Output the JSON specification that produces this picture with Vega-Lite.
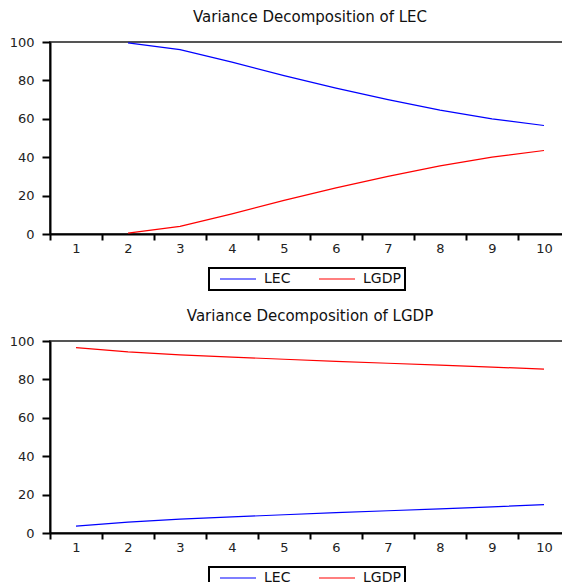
{
  "$schema": "https://vega.github.io/schema/vega-lite/v6.json",
  "padding": {"left": 8, "top": 9, "right": 0, "bottom": 0},
  "spacing": 16,
  "config": {
    "font": "DejaVu Sans",
    "background": "white",
    "view": {"stroke": "#555", "strokeWidth": 2},
    "axis": {"grid": false, "domainColor": "#000", "domainWidth": 2, "tickColor": "#000", "tickWidth": 2, "labelFontSize": 13, "labelColor": "#222"},
    "axisX": {"tickSize": 6, "labelPadding": 2},
    "axisY": {"tickSize": 8, "labelPadding": 8},
    "title": {"fontSize": 15, "fontWeight": "normal", "font": "DejaVu Sans", "offset": 11, "color": "#111"},
    "legend": {"orient": "none", "direction": "horizontal", "symbolType": "M-1,0H5", "symbolSize": 144, "symbolStrokeWidth": 1.2, "symbolOffset": 6, "strokeColor": "#000", "strokeWidth": 2, "padding": 4, "labelFontSize": 14, "labelColor": "#111", "columnPadding": 21, "labelOffset": 31, "legendX": 159, "legendY": 226}
  },
  "resolve": {"legend": {"color": "independent"}},
  "vconcat": [
    {
      "title": "Variance Decomposition of LEC",
      "width": 520,
      "height": 192,
      "data": {"values": [
        {"period": 2, "series": "LEC", "value": 99.5},
        {"period": 3, "series": "LEC", "value": 96.0},
        {"period": 4, "series": "LEC", "value": 89.5},
        {"period": 5, "series": "LEC", "value": 82.5},
        {"period": 6, "series": "LEC", "value": 76.0},
        {"period": 7, "series": "LEC", "value": 70.0},
        {"period": 8, "series": "LEC", "value": 64.5},
        {"period": 9, "series": "LEC", "value": 60.0},
        {"period": 10, "series": "LEC", "value": 56.5},
        {"period": 2, "series": "LGDP", "value": 0.5},
        {"period": 3, "series": "LGDP", "value": 4.0},
        {"period": 4, "series": "LGDP", "value": 10.5},
        {"period": 5, "series": "LGDP", "value": 17.5},
        {"period": 6, "series": "LGDP", "value": 24.0},
        {"period": 7, "series": "LGDP", "value": 30.0},
        {"period": 8, "series": "LGDP", "value": 35.5},
        {"period": 9, "series": "LGDP", "value": 40.0},
        {"period": 10, "series": "LGDP", "value": 43.5}
      ]},
      "mark": {"type": "line", "strokeWidth": 1.2},
      "encoding": {
        "x": {"field": "period", "type": "ordinal", "bandPosition": 0.5,
              "scale": {"type": "band", "domain": [1,2,3,4,5,6,7,8,9,10], "paddingInner": 0, "paddingOuter": 0},
              "axis": {"labelAngle": 0, "tickBand": "extent", "title": null}},
        "y": {"field": "value", "type": "quantitative", "scale": {"domain": [0, 100], "nice": false},
              "axis": {"values": [0, 20, 40, 60, 80, 100], "title": null}},
        "color": {"field": "series", "type": "nominal",
                  "scale": {"domain": ["LEC", "LGDP"], "range": ["#0000ff", "#ff0000"]},
                  "legend": {"title": null}}
      }
    },
    {
      "title": "Variance Decomposition of LGDP",
      "width": 520,
      "height": 192,
      "data": {"values": [
        {"period": 1, "series": "LEC", "value": 3.6},
        {"period": 2, "series": "LEC", "value": 5.7},
        {"period": 3, "series": "LEC", "value": 7.2},
        {"period": 4, "series": "LEC", "value": 8.4},
        {"period": 5, "series": "LEC", "value": 9.5},
        {"period": 6, "series": "LEC", "value": 10.6},
        {"period": 7, "series": "LEC", "value": 11.6},
        {"period": 8, "series": "LEC", "value": 12.6},
        {"period": 9, "series": "LEC", "value": 13.6},
        {"period": 10, "series": "LEC", "value": 14.8},
        {"period": 1, "series": "LGDP", "value": 96.5},
        {"period": 2, "series": "LGDP", "value": 94.3},
        {"period": 3, "series": "LGDP", "value": 92.8},
        {"period": 4, "series": "LGDP", "value": 91.6},
        {"period": 5, "series": "LGDP", "value": 90.5},
        {"period": 6, "series": "LGDP", "value": 89.4},
        {"period": 7, "series": "LGDP", "value": 88.4},
        {"period": 8, "series": "LGDP", "value": 87.4},
        {"period": 9, "series": "LGDP", "value": 86.4},
        {"period": 10, "series": "LGDP", "value": 85.4}
      ]},
      "mark": {"type": "line", "strokeWidth": 1.2},
      "encoding": {
        "x": {"field": "period", "type": "ordinal", "bandPosition": 0.5,
              "scale": {"type": "band", "domain": [1,2,3,4,5,6,7,8,9,10], "paddingInner": 0, "paddingOuter": 0},
              "axis": {"labelAngle": 0, "tickBand": "extent", "title": null}},
        "y": {"field": "value", "type": "quantitative", "scale": {"domain": [0, 100], "nice": false},
              "axis": {"values": [0, 20, 40, 60, 80, 100], "title": null}},
        "color": {"field": "series", "type": "nominal",
                  "scale": {"domain": ["LEC", "LGDP"], "range": ["#0000ff", "#ff0000"]},
                  "legend": {"title": null}}
      }
    }
  ]
}
